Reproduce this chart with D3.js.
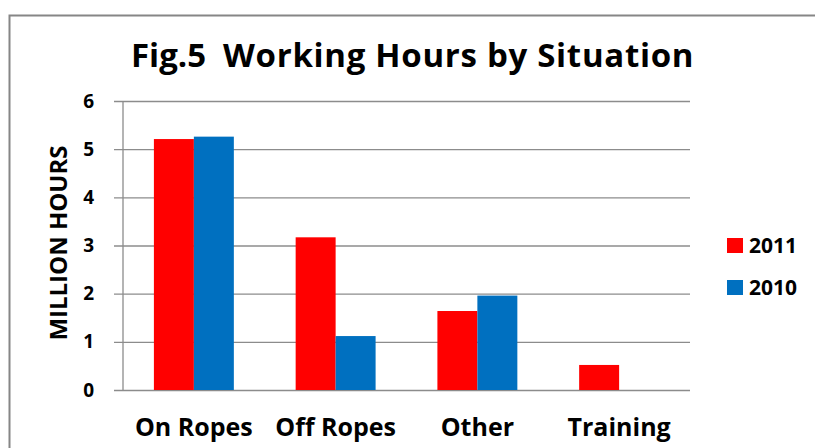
<!DOCTYPE html>
<html lang="en">
<head>
    <meta charset="UTF-8">
    <title>Working Hours by Situation</title>
    <script type="text/javascript" src="https://d3js.org/d3.v7.min.js"></script>
    <style>
        body { margin: 0; background: #fff; }
        text { font-family: "Open Sans", "Lato", sans-serif; font-weight: bold; fill: #000; }
    </style>
</head>
<body>
<svg class="chart"></svg>

<script type="text/javascript">

    const width = 815;
    const height = 448;

    const categories = ["On Ropes", "Off Ropes", "Other", "Training"];
    const seriesNames = ["2011", "2010"];
    const values2011 = [5.21, 3.17, 1.64, 0.52];
    const values2010 = [5.26, 1.12, 1.96, 0];
    const yTicks = [0, 1, 2, 3, 4, 5, 6];
    const colors = ["#ff0000", "#0070c0"];

    let plotLeft = 123, plotRight = 690, plotTop = 101, plotBottom = 390;

    let svg = d3.select(".chart")
        .attr("width", width)
        .attr("height", height);

    // outer frame
    svg.append("rect")
        .attr("x", 9.5).attr("y", 15.5)
        .attr("width", 900).attr("height", 600)
        .attr("fill", "none")
        .attr("stroke", "#868686")
        .attr("stroke-width", 2);

    // title (two parts, wide gap like the original)
    svg.append("text")
        .attr("x", 131).attr("y", 67)
        .style("font-size", "33px")
        .text("Fig.5");
    svg.append("text")
        .attr("x", 223).attr("y", 67)
        .style("font-size", "33px")
        .style("letter-spacing", "0.7px")
        .text("Working Hours by Situation");

    let y = d3.scaleLinear().domain([0, 6]).range([plotBottom, plotTop]);

    let x = d3.scaleBand()
        .domain(categories)
        .range([plotLeft, plotRight])
        .paddingInner(0.436)
        .paddingOuter(0.218);

    let xs = d3.scaleBand().domain(seriesNames).range([0, x.bandwidth()]);

    // gridlines + ticks
    let yAxis = d3.axisLeft(y)
        .tickValues(yTicks)
        .tickSize(-(plotRight - plotLeft))
        .tickPadding(29)
        .tickFormat(d3.format("d"));

    let ga = svg.append("g")
        .attr("transform", "translate(" + plotLeft + ",0)")
        .call(yAxis);
    ga.select(".domain").remove();
    ga.selectAll(".tick line")
        .attr("x1", -9)
        .attr("stroke", "#8c8c8c")
        .attr("stroke-width", 1.3);
    ga.selectAll(".tick text")
        .style("font-size", "19px")
        .style("font-family", "'Open Sans', sans-serif")
        .attr("fill", "#000");

    svg.append("line")
        .attr("x1", plotLeft).attr("x2", plotLeft)
        .attr("y1", plotTop).attr("y2", plotBottom)
        .attr("stroke", "#8c8c8c").attr("stroke-width", 1.3);

    let rows = categories.map((c, i) => ({cat: c, vals: [values2011[i], values2010[i]]}));

    let groups = svg.append("g").selectAll("g").data(rows).enter().append("g")
        .attr("transform", d => "translate(" + x(d.cat) + ",0)");

    groups.selectAll("rect")
        .data(d => d.vals.map((v, j) => ({name: seriesNames[j], v: v, j: j})))
        .enter().append("rect")
        .attr("x", d => xs(d.name))
        .attr("width", xs.bandwidth())
        .attr("y", d => y(d.v))
        .attr("height", d => y(0) - y(d.v))
        .attr("fill", d => colors[d.j]);

    // category labels
    svg.append("g").selectAll("text").data(categories).enter().append("text")
        .attr("x", d => x(d) + x.bandwidth() / 2)
        .attr("y", 436)
        .attr("text-anchor", "middle")
        .style("font-size", "25px")
        .text(d => d);

    // y axis title
    svg.append("text")
        .attr("transform", "translate(67,243) rotate(-90)")
        .attr("text-anchor", "middle")
        .style("font-size", "24px")
        .text("MILLION HOURS");

    // legend
    let legend = svg.append("g").selectAll("g").data(seriesNames).enter().append("g")
        .attr("transform", (d, i) => "translate(727," + (238 + i * 42) + ")");
    legend.append("rect")
        .attr("width", 16).attr("height", 15)
        .attr("fill", (d, i) => colors[i]);
    legend.append("text")
        .attr("x", 22).attr("y", 15)
        .style("font-size", "21px")
        .text(d => d);

</script>
</body>
</html>
